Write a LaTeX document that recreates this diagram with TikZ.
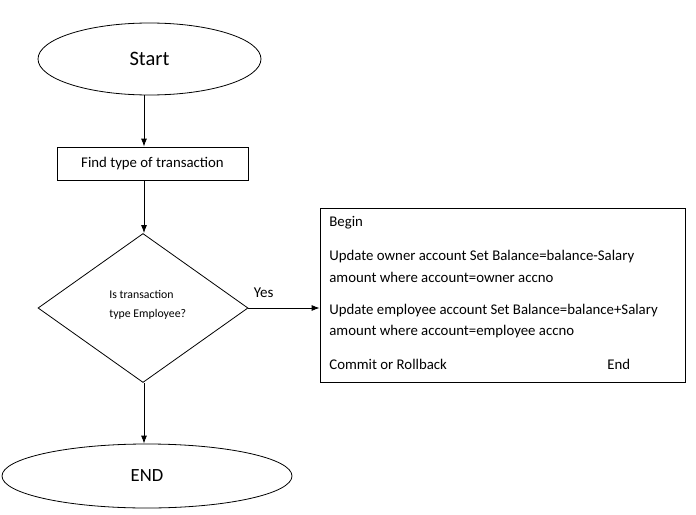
\documentclass[tikz,border=0pt]{standalone}
\usepackage{fontspec}
\setmainfont{Carlito}
\usetikzlibrary{shapes.geometric,arrows.meta}
\tikzstyle{node_term} = [ellipse, draw, inner sep=0pt]
\tikzstyle{node_proc} = [rectangle, draw, inner sep=0pt]
\tikzstyle{node_dec} = [diamond, draw, inner sep=0pt, minimum width=210pt, minimum height=149pt]
\tikzstyle{node_line} = [anchor=west, inner sep=0pt, font=\fontsize{14.8}{17}\selectfont]
\tikzstyle{edge_normal} = [-{Latex[length=8pt,width=6pt]}]

\begin{document}
\begin{tikzpicture}[x=1pt, y=-1pt, line width=0.8pt]
		\useasboundingbox (0,0) rectangle (696,514);
		\node (S) at (149.5,59) [node_term, minimum width=223pt, minimum height=72pt, font=\fontsize{20.5}{24}\selectfont] {Start};
		\node (F) at (152.5,163.5) [node_proc, minimum width=191pt, minimum height=33pt, font=\fontsize{14.8}{17}\selectfont] {Find type of transaction};
		\node (D) at (143,308) [node_dec] {};
		\node (Q) at (109,305) [anchor=west, align=left, inner sep=0pt, font=\fontsize{11.8}{19}\selectfont] {Is transaction\\type Employee?};
		\node (B) at (502.5,295) [node_proc, minimum width=365pt, minimum height=174pt] {};
		\node (E) at (147,476) [node_term, minimum width=290pt, minimum height=64pt, font=\fontsize{18.6}{22}\selectfont] {END};
		
		\node (L1) at (329,223) [node_line] {Begin};
		\node (L2) at (329,257) [node_line] {Update owner account Set Balance=balance-Salary};
		\node (L3) at (329,277) [node_line] {amount where account=owner accno};
		\node (L4) at (329,311) [node_line] {Update employee account Set Balance=balance+Salary};
		\node (L5) at (329,332) [node_line] {amount where account=employee accno};
		\node (L6) at (329,364) [node_line] {Commit or Rollback};
		\node (L7) at (607,364) [node_line] {End};
		
		\draw[edge_normal] (S.south -| 144,0) -- (F.north -| 144,0);
		\draw[edge_normal] (F.south -| 144,0) -- (D.north -| 144,0);
		\draw[edge_normal] (D.east) -- node[anchor=west, inner sep=0pt, at start, xshift=5pt, yshift=15pt, font=\fontsize{15}{17}\selectfont] {Yes} (B.west |- D.east);
		\draw[edge_normal] (D.south -| 144,0) -- (E.north -| 144,0);
		\end{tikzpicture}
\end{document}
